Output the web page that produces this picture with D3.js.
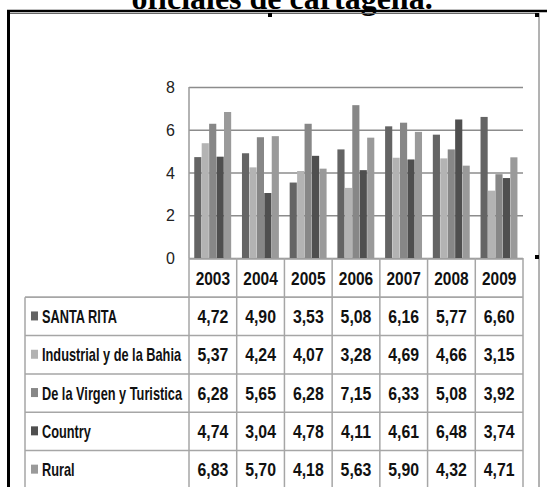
<!DOCTYPE html>
<html>
<head>
<meta charset="utf-8">
<script src="https://cdn.jsdelivr.net/npm/d3@7"></script>
<style>
  body { margin: 0; background: #fff; }
  svg { display: block; }
  .cell-text { font-family: 'Liberation Sans', sans-serif; font-weight: bold; font-size: 18px; fill: #111; }
  .tick-text { font-family: 'Liberation Sans', sans-serif; font-size: 16px; fill: #222; }
</style>
</head>
<body>
<svg width="547" height="487"></svg>
<script>
  const years = ['2003', '2004', '2005', '2006', '2007', '2008', '2009'];
  const seriesNames = ['SANTA RITA', 'Industrial y de la Bahia', 'De la Virgen y Turistica', 'Country', 'Rural'];
  const santaRita = [4.72, 4.90, 3.53, 5.08, 6.16, 5.77, 6.60];
  const industrial = [5.37, 4.24, 4.07, 3.28, 4.69, 4.66, 3.15];
  const laVirgen = [6.28, 5.65, 6.28, 7.15, 6.33, 5.08, 3.92];
  const country = [4.74, 3.04, 4.78, 4.11, 4.61, 6.48, 3.74];
  const rural = [6.83, 5.70, 4.18, 5.63, 5.90, 4.32, 4.71];
  const yTicks = [0, 2, 4, 6, 8];
  const title = 'oficiales de cartagena.';

  const seriesValues = [santaRita, industrial, laVirgen, country, rural];
  const barColors = ['#646464', '#b3b3b3', '#878787', '#4f4f4f', '#9a9a9a'];

  const svg = d3.select('svg');
  const width = +svg.attr('width');

  // page bits around the chart
  svg.append('text')
    .attr('x', 282).attr('y', 9)
    .attr('text-anchor', 'middle')
    .style('font-family', 'Liberation Serif, serif')
    .style('font-weight', 'bold')
    .style('font-size', '32px')
    .text(title);

  svg.append('line').attr('x1', 7).attr('x2', width).attr('y1', 11).attr('y2', 11)
    .attr('stroke', '#000').attr('stroke-width', 2.5);
  svg.append('rect').attr('x', 9).attr('y', 13.5).attr('width', 530).attr('height', 480)
    .attr('fill', 'none').attr('stroke', '#666').attr('stroke-width', 1);
  svg.append('line').attr('x1', 8.5).attr('x2', 8.5).attr('y1', 11).attr('y2', 487)
    .attr('stroke', '#000').attr('stroke-width', 3);
  [[268, 13], [535, 13], [535, 255]].forEach(([x, y]) => {
    svg.append('rect').attr('x', x).attr('y', y).attr('width', 4).attr('height', 4).attr('fill', '#000');
  });

  // scales
  const plotLeft = 189, plotRight = 523, plotTop = 87, plotBottom = 258;
  const xCol = d3.scaleBand().domain(years).range([plotLeft, plotRight]);
  const xBar = d3.scaleBand().domain(years).range([plotLeft, plotRight])
    .paddingInner(0.22).paddingOuter(0.11);
  const xSub = d3.scaleBand().domain(d3.range(seriesNames.length)).range([0, xBar.bandwidth()]);
  const yScale = d3.scaleLinear().domain([0, 8]).range([plotBottom, plotTop]);

  const g = svg.append('g');

  // gridlines + tick labels
  const yAxis = d3.axisLeft(yScale).tickValues(yTicks)
    .tickSize(-(plotRight - plotLeft)).tickPadding(14).tickFormat(d3.format('d'));
  const yAxisG = g.append('g').attr('transform', `translate(${plotLeft},0)`).call(yAxis);
  yAxisG.select('.domain').remove();
  yAxisG.selectAll('.tick line').attr('stroke', '#8c8c8c').attr('stroke-width', 1.5);
  yAxisG.selectAll('.tick text').attr('class', 'tick-text').attr('dy', '0.35em');
  g.append('line').attr('x1', plotLeft).attr('x2', plotLeft).attr('y1', plotTop).attr('y2', plotBottom)
    .attr('stroke', '#9a9a9a').attr('stroke-width', 1.5);

  // bars
  seriesValues.forEach((vals, si) => {
    g.append('g').selectAll('rect').data(vals).join('rect')
      .attr('x', (d, i) => xBar(years[i]) + xSub(si))
      .attr('width', xSub.bandwidth() - 0.3)
      .attr('y', d => yScale(d))
      .attr('height', d => yScale(0) - yScale(d))
      .attr('fill', barColors[si]);
  });

  // data table
  const tableLeft = 25;
  const rowKeys = ['header', ...seriesNames];
  const yRow = d3.scaleBand().domain(rowKeys).range([259, 259 + 38.3 * rowKeys.length]);
  const gridStroke = '#a6a6a6';
  const tg = svg.append('g');

  // horizontal lines
  rowKeys.forEach((k, i) => {
    tg.append('line')
      .attr('x1', i === 0 ? plotLeft : tableLeft).attr('x2', plotRight)
      .attr('y1', yRow(k)).attr('y2', yRow(k))
      .attr('stroke', gridStroke).attr('stroke-width', 1.5);
  });
  tg.append('line')
    .attr('x1', tableLeft).attr('x2', plotRight)
    .attr('y1', yRow('header') + yRow.bandwidth()).attr('y2', yRow('header') + yRow.bandwidth())
    .attr('stroke', gridStroke).attr('stroke-width', 1.5);
  // vertical lines
  const tableBottom = yRow.range()[1];
  tg.append('line').attr('x1', tableLeft).attr('x2', tableLeft)
    .attr('y1', yRow(seriesNames[0])).attr('y2', tableBottom)
    .attr('stroke', gridStroke).attr('stroke-width', 1.5);
  [...years.map(y => xCol(y)), plotRight].forEach(x => {
    tg.append('line').attr('x1', x).attr('x2', x)
      .attr('y1', plotBottom).attr('y2', tableBottom)
      .attr('stroke', gridStroke).attr('stroke-width', 1.5);
  });

  const cellText = (x, y, anchor, txt, sx) => tg.append('text')
    .attr('class', 'cell-text')
    .attr('transform', `translate(${x},${y}) scale(${sx},1)`)
    .attr('text-anchor', anchor)
    .text(txt);

  years.forEach(yr => {
    cellText(xCol(yr) + xCol.bandwidth() / 2, yRow('header') + yRow.bandwidth() / 2 + 6.5, 'middle', yr, 0.86);
  });
  const fmt = v => d3.format('.2f')(v).replace('.', ',');
  seriesNames.forEach((name, si) => {
    const cy = yRow(name) + yRow.bandwidth() / 2;
    tg.append('rect').attr('x', 31).attr('y', cy - 5).attr('width', 7).attr('height', 9)
      .attr('fill', barColors[si]);
    cellText(42, cy + 6.5, 'start', name, 0.71);
    seriesValues[si].forEach((v, i) => {
      cellText(xCol(years[i]) + xCol.bandwidth() / 2, cy + 6.5, 'middle', fmt(v), 0.88);
    });
  });
</script>
</body>
</html>
